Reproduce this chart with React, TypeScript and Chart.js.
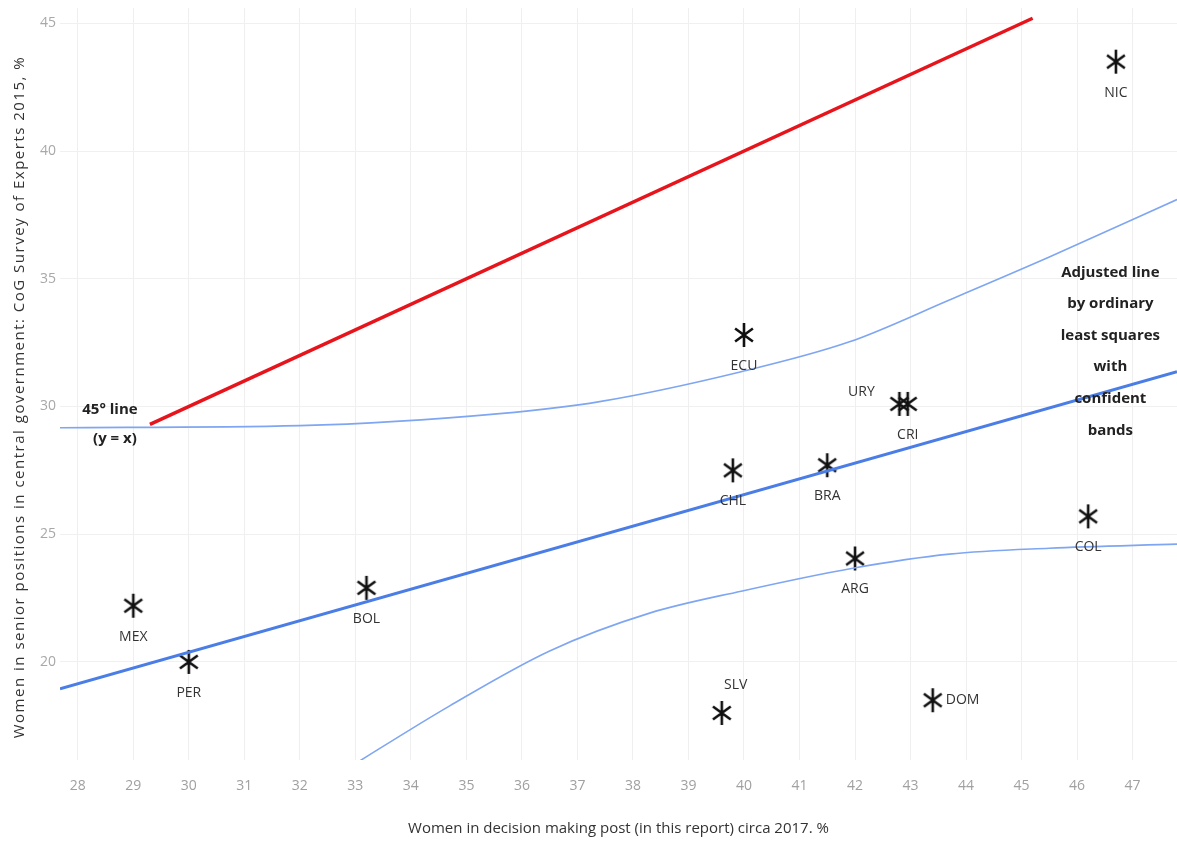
import React, { useEffect, useRef } from "react";
import { Chart, registerables } from "chart.js";

Chart.register(...registerables);

const countries = ["MEX", "PER", "BOL", "ECU", "CHL", "BRA", "URY", "CRI", "ARG", "COL", "NIC", "SLV", "DOM"];
const decisionPct = [29.0, 30.0, 33.2, 40.0, 39.8, 41.5, 42.8, 42.95, 42.0, 46.2, 46.7, 39.6, 43.4];
const seniorPct = [22.2, 20.0, 22.9, 32.8, 27.5, 27.7, 30.1, 30.1, 24.05, 25.7, 43.5, 18.0, 18.5];

const lineX45 = [29.3, 45.2];
const olsX = [27.68, 47.8];
const olsY = [18.95, 31.36];
const upperX = [27.68, 32.0, 35.6, 37.4, 39.95, 41.9, 43.7, 45.5, 47.8];
const upperY = [29.17, 29.25, 29.72, 30.19, 31.36, 32.53, 34.17, 35.85, 38.1];
const lowerX = [32.8, 34.7, 36.5, 38.3, 39.95, 41.96, 43.7, 45.5, 47.8];
const lowerY = [15.75, 18.28, 20.43, 21.91, 22.77, 23.67, 24.22, 24.45, 24.61];

const xTicks = [28, 29, 30, 31, 32, 33, 34, 35, 36, 37, 38, 39, 40, 41, 42, 43, 44, 45, 46, 47];
const yTicks = [20, 25, 30, 35, 40, 45];

const xTitle = "Women in decision making post (in this report) circa 2017. %";
const yTitle = "Women in senior positions in central government: CoG Survey of Experts 2015, %";
const note45 = ["45° line", "(y = x)"];
const noteOls = ["Adjusted line", "by ordinary", "least squares", "with", "confident", "bands"];

const FONT = "'Liberation Sans Narrow', 'Open Sans', 'Liberation Sans', sans-serif";

// label placement (pixel offsets from the point), kept apart from the data
const labelOffsets: Record<string, [number, number, CanvasTextAlign]> = {
  URY: [-38, -12, "center"],
  SLV: [14, -28, "center"],
  DOM: [13, 0, "left"],
};

function makeAsterisk(): HTMLCanvasElement {
  const c = document.createElement("canvas");
  c.width = 28;
  c.height = 28;
  const ctx = c.getContext("2d")!;
  ctx.strokeStyle = "#111";
  ctx.lineWidth = 2.6;
  ctx.lineCap = "butt";
  ctx.beginPath();
  ctx.moveTo(14, 2);
  ctx.lineTo(14, 26);
  const r = 11;
  const ang = (36 * Math.PI) / 180;
  ctx.moveTo(14 - r * Math.cos(ang), 14 - r * Math.sin(ang));
  ctx.lineTo(14 + r * Math.cos(ang), 14 + r * Math.sin(ang));
  ctx.moveTo(14 - r * Math.cos(ang), 14 + r * Math.sin(ang));
  ctx.lineTo(14 + r * Math.cos(ang), 14 - r * Math.sin(ang));
  ctx.stroke();
  return c;
}

export default function App() {
  const ref = useRef<HTMLCanvasElement | null>(null);

  useEffect(() => {
    if (!ref.current) return;
    const star = makeAsterisk();

    const textPlugin = {
      id: "texts",
      afterDatasetsDraw(chart: any) {
        const ctx = chart.ctx;
        const xs = chart.scales.x;
        const ys = chart.scales.y;
        const meta = chart.getDatasetMeta(4);
        ctx.save();
        ctx.font = `14px ${FONT}`;
        ctx.fillStyle = "#333";
        ctx.textBaseline = "middle";
        meta.data.forEach((pt: any, i: number) => {
          const name = countries[i];
          const off = labelOffsets[name] || [0, 31, "center"];
          ctx.textAlign = off[2];
          ctx.fillText(name, pt.x + off[0], pt.y + off[1]);
        });
        ctx.font = `bold 15px ${FONT}`;
        ctx.fillStyle = "#222";
        ctx.textAlign = "center";
        ctx.fillText(note45[0], xs.getPixelForValue(28.58), ys.getPixelForValue(29.88));
        ctx.fillText(note45[1], xs.getPixelForValue(28.67), ys.getPixelForValue(28.75));
        const cx = xs.getPixelForValue(46.6);
        const y0 = ys.getPixelForValue(35.25);
        noteOls.forEach((t, i) => ctx.fillText(t, cx, y0 + i * 31.6));
        ctx.restore();

        // y axis title
        ctx.save();
        const area = chart.chartArea;
        ctx.translate(20, (area.top + area.bottom) / 2 + 13);
        ctx.rotate(-Math.PI / 2);
        ctx.font = `15px ${FONT}`;
        ctx.fillStyle = "#333";
        ctx.textAlign = "center";
        ctx.textBaseline = "middle";
        try {
          (ctx as any).letterSpacing = "1.5px";
        } catch (e) {}
        ctx.fillText(yTitle, 0, 0);
        try {
          (ctx as any).letterSpacing = "0px";
        } catch (e) {}
        ctx.restore();
      },
    };

    const chart = new Chart(ref.current, {
      type: "scatter",
      data: {
        datasets: [
          {
            type: "line",
            data: upperX.map((x, i) => ({ x, y: upperY[i] })),
            borderColor: "#7fa6f2",
            borderWidth: 1.6,
            pointRadius: 0,
            cubicInterpolationMode: "monotone",
            fill: false,
          },
          {
            type: "line",
            data: lowerX.map((x, i) => ({ x, y: lowerY[i] })),
            borderColor: "#7fa6f2",
            borderWidth: 1.6,
            pointRadius: 0,
            cubicInterpolationMode: "monotone",
            fill: false,
          },
          {
            type: "line",
            data: olsX.map((x, i) => ({ x, y: olsY[i] })),
            borderColor: "#4a7de6",
            borderWidth: 3,
            pointRadius: 0,
            fill: false,
          },
          {
            type: "line",
            data: lineX45.map((x) => ({ x, y: x })),
            borderColor: "#e8141c",
            borderWidth: 3.5,
            pointRadius: 0,
            fill: false,
          },
          {
            data: decisionPct.map((x, i) => ({ x, y: seniorPct[i] })),
            pointStyle: star as any,
            pointRadius: 12,
            backgroundColor: "#111",
            borderColor: "#111",
          },
        ],
      },
      options: {
        animation: false,
        responsive: false,
        maintainAspectRatio: false,
        layout: { autoPadding: false, padding: { top: 8, right: 0, left: 0, bottom: 0 } },
        plugins: { legend: { display: false }, tooltip: { enabled: false } },
        scales: {
          x: {
            type: "linear",
            min: 27.68,
            max: 47.8,
            afterFit: (s: any) => {
              s.height = 82;
              s.paddingLeft = 0;
              s.paddingRight = 0;
            },
            afterBuildTicks: (s: any) => {
              s.ticks = xTicks.map((value) => ({ value }));
            },
            grid: { color: "#efefef", drawTicks: false, lineWidth: 1 },
            border: { display: false },
            ticks: {
              color: "#a0a0a0",
              font: { family: FONT, size: 14 },
              padding: 18,
              maxRotation: 0,
              autoSkip: false,
            },
            title: {
              display: true,
              text: xTitle,
              color: "#333",
              font: { family: FONT, size: 15 },
              padding: { top: 0, bottom: 4 },
            },
          },
          y: {
            type: "linear",
            min: 16.16,
            max: 45.6,
            afterFit: (s: any) => {
              s.width = 60;
              s.paddingTop = 0;
              s.paddingBottom = 0;
            },
            afterBuildTicks: (s: any) => {
              s.ticks = yTicks.map((value) => ({ value }));
            },
            grid: { color: "#f0f0f0", drawTicks: false, lineWidth: 1 },
            border: { display: false },
            ticks: {
              color: "#a8a8a8",
              font: { family: FONT, size: 14 },
              padding: 4,
            },
            title: { display: false },
          },
        },
      },
      plugins: [textPlugin],
    } as any);

    return () => chart.destroy();
  }, []);

  return (
    <div style={{ position: "absolute", left: 0, top: 0, width: 1177, height: 842, background: "#fff" }}>
      <canvas ref={ref} width={1177} height={842} style={{ display: "block", width: 1177, height: 842 }} />
    </div>
  );
}
